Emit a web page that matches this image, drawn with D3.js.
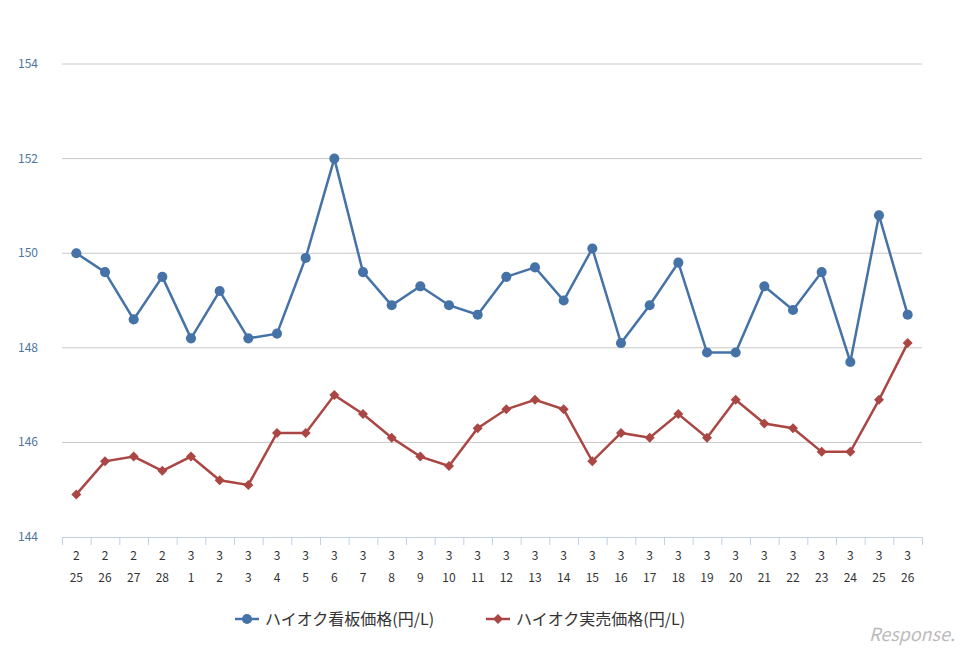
<!DOCTYPE html>
<html><head><meta charset="utf-8">
<script src="https://cdn.jsdelivr.net/npm/d3@7"></script>
<style>body{margin:0;background:#fff;font-family:"Noto Sans CJK JP","DejaVu Sans",sans-serif}</style>
</head><body><svg id="c" width="968" height="655"></svg>
<script>
const months = [2,2,2,2,3,3,3,3,3,3,3,3,3,3,3,3,3,3,3,3,3,3,3,3,3,3,3,3,3,3];
const days = [25,26,27,28,1,2,3,4,5,6,7,8,9,10,11,12,13,14,15,16,17,18,19,20,21,22,23,24,25,26];
const signPrice = [150.0,149.6,148.6,149.5,148.2,149.2,148.2,148.3,149.9,152.0,149.6,148.9,149.3,148.9,148.7,149.5,149.7,149.0,150.1,148.1,148.9,149.8,147.9,147.9,149.3,148.8,149.6,147.7,150.8,148.7];
const realPrice = [144.9,145.6,145.7,145.4,145.7,145.2,145.1,146.2,146.2,147.0,146.6,146.1,145.7,145.5,146.3,146.7,146.9,146.7,145.6,146.2,146.1,146.6,146.1,146.9,146.4,146.3,145.8,145.8,146.9,148.1];
const yTicks = [144,146,148,150,152,154];
const names = ["ハイオク看板価格(円/L)","ハイオク実売価格(円/L)"];

const svg = d3.select("#c");
const L = 62, R = 922, T = 64, B = 537;
const idx = d3.range(months.length);
const x = d3.scaleBand().domain(idx).range([L, R]);
const y = d3.scaleLinear().domain([144, 154]).range([B, T]);

svg.append("g").selectAll("line").data(yTicks.slice(1)).join("line")
  .attr("x1", L).attr("x2", R).attr("y1", d => y(d)).attr("y2", d => y(d))
  .attr("stroke", "#c8c8c8");
svg.append("g").selectAll("text").data(yTicks).join("text")
  .attr("x", 18).attr("y", d => y(d) + 4).attr("fill", "#4d759e")
  .attr("font-size", 12).text(d => d);

svg.append("line").attr("x1", L).attr("x2", R).attr("y1", B + 0.5).attr("y2", B + 0.5).attr("stroke", "#c0d0e0");
svg.append("g").selectAll("line").data(d3.range(months.length + 1)).join("line")
  .attr("x1", d => L + d * x.bandwidth() + 0.5).attr("x2", d => L + d * x.bandwidth() + 0.5)
  .attr("y1", B).attr("y2", B + 8).attr("stroke", "#c0d0e0");
const lab = svg.append("g").selectAll("g").data(idx).join("g")
  .attr("transform", d => `translate(${x(d) + x.bandwidth() / 2},0)`);
lab.append("text").attr("y", 560).attr("text-anchor", "middle").attr("font-size", 12).attr("fill", "#333").text(d => months[d]);
lab.append("text").attr("y", 582).attr("text-anchor", "middle").attr("font-size", 12).attr("fill", "#333").text(d => days[d]);

const cx = d => x(d) + x.bandwidth() / 2;
const marker = (shape) => shape === "circle" ? d3.symbol(d3.symbolCircle, 80)() : d3.symbol(d3.symbolSquare, 50)();
const rot = (shape) => shape === "circle" ? "" : " rotate(45)";
function series(vals, color, shape) {
  svg.append("path").datum(idx)
    .attr("d", d3.line().x(cx).y(d => y(vals[d])))
    .attr("fill", "none").attr("stroke", color).attr("stroke-width", 2.5);
  svg.append("g").selectAll("path").data(idx).join("path")
    .attr("transform", d => `translate(${cx(d)},${y(vals[d])})` + rot(shape))
    .attr("d", marker(shape))
    .attr("fill", color);
}
series(signPrice, "#4572a7", "circle");
series(realPrice, "#aa4643", "diamond");

const leg = svg.append("g");
[[0, "#4572a7", "circle", 235], [1, "#aa4643", "diamond", 486]].forEach(([i, c, s, lx]) => {
  leg.append("line").attr("x1", lx).attr("x2", lx + 24).attr("y1", 619).attr("y2", 619).attr("stroke", c).attr("stroke-width", 2.5);
  leg.append("path").attr("transform", `translate(${lx + 12},619)` + rot(s)).attr("d", marker(s)).attr("fill", c);
  leg.append("text").attr("x", lx + 30).attr("y", 625).attr("font-size", 16).attr("fill", "#333").text(names[i]);
});
svg.append("text").attr("x", 955).attr("y", 641).attr("text-anchor", "end").attr("font-size", 18)
  .attr("font-style", "italic").attr("fill", "#bbb").text("Response.");
</script></body></html>
